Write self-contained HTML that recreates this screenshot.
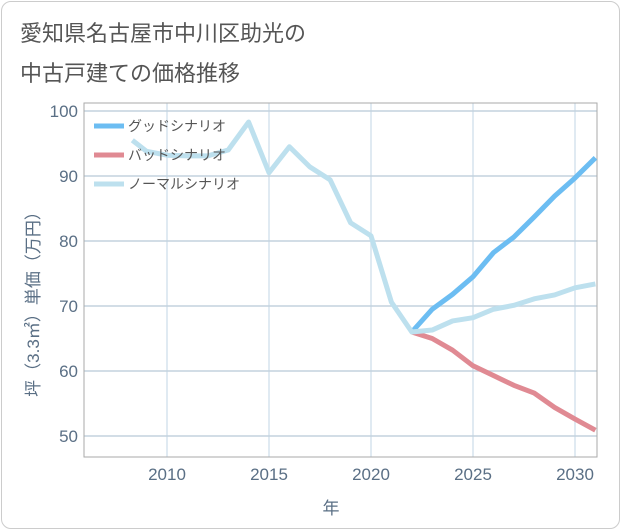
<!DOCTYPE html>
<html><head><meta charset="utf-8"><style>
body{margin:0;background:#fff;}
#card{position:absolute;left:1px;top:1px;width:617px;height:526px;border:1px solid #ccc;border-radius:10px;background:#fff;}
.t{position:absolute;left:18px;font:22px "Liberation Sans","Noto Sans CJK JP",sans-serif;color:#555;}
svg text{font-family:"Liberation Sans","Noto Sans CJK JP",sans-serif;}
</style></head><body>
<div id="card">
<div class="t" style="top:14px">愛知県名古屋市中川区助光の</div>
<div class="t" style="top:54px">中古戸建ての価格推移</div>
</div>
<svg id="chart" width="621" height="530" style="position:absolute;left:0;top:0"></svg>
<script>
const xTicks=[2010,2015,2020,2025,2030];
const yTicks=[50,60,70,80,90,100];
const normalYears=[2008.3,2009,2010,2011,2012,2013,2014,2015,2016,2017,2018,2019,2020,2021,2022,2023,2024,2025,2026,2027,2028,2029,2030,2031];
const normalVals=[95.5,93.8,93.2,93.1,93.1,94,98.3,90.5,94.5,91.4,89.4,82.8,80.8,70.6,66,66.3,67.7,68.2,69.5,70.1,71.1,71.7,72.8,73.4];
const futureYears=[2022,2023,2024,2025,2026,2027,2028,2029,2030,2031];
const goodVals=[66,69.5,71.8,74.5,78.2,80.6,83.7,86.9,89.7,92.8];
const badVals=[66,65,63.2,60.8,59.3,57.8,56.6,54.4,52.6,50.9];
const L=84,R=597,T=103,B=457;
const X=y=>167+(y-2010)*20.4;
const Y=v=>111+(100-v)*6.5;
const NS='http://www.w3.org/2000/svg';
const svg=document.getElementById('chart');
function mk(t,a){const e=document.createElementNS(NS,t);for(const k in a)e.setAttribute(k,a[k]);svg.appendChild(e);return e;}
const defs=mk('defs',{});const cp=document.createElementNS(NS,'clipPath');cp.setAttribute('id','c');defs.appendChild(cp);
const cr=document.createElementNS(NS,'rect');cr.setAttribute('x',L);cr.setAttribute('y',T);cr.setAttribute('width',R-L);cr.setAttribute('height',B-T);cp.appendChild(cr);
xTicks.forEach(t=>{
 const g=mk('line',{x1:X(t),x2:X(t),y1:T,y2:B,stroke:'#d5e3ee','stroke-width':1.5});
 
 const l=mk('text',{x:X(t),y:480,'text-anchor':'middle','font-size':17,fill:'#5a6f85'});l.textContent=t;
 
});
yTicks.forEach(t=>{
 const g=mk('line',{x1:L,x2:R,y1:Y(t),y2:Y(t),stroke:'#c3d2de','stroke-width':1.5});
 
 const l=mk('text',{x:78,y:Y(t)+6,'text-anchor':'end','font-size':17,fill:'#5a6f85'});l.textContent=t;
 
});
const fr=mk('rect',{x:L,y:T,width:R-L,height:B-T,fill:'none',stroke:'#aaa','stroke-width':1});

function line(ys,vs,col,name){
 const p=mk('polyline',{points:ys.map((y,i)=>X(y)+','+Y(vs[i])).join(' '),fill:'none',stroke:col,'stroke-width':5,'stroke-linejoin':'round','clip-path':'url(#c)'});
 
}
line(futureYears,badVals,'#e08a93','bad-scenario-line');
line(futureYears,goodVals,'#6cbdf2','good-scenario-line');
line(normalYears,normalVals,'#bde0ee','normal-scenario-line');
[['グッドシナリオ','#6cbdf2'],['バッドシナリオ','#e08a93'],['ノーマルシナリオ','#bde0ee']].forEach((e,i)=>{
 const y=126+i*29;
 const s=mk('line',{x1:94,x2:124,y1:y,y2:y,stroke:e[1],'stroke-width':5});
 
 const t=mk('text',{x:128,y:y+5,'font-size':14,fill:'#555'});t.textContent=e[0];
 
});
const xt=mk('text',{x:331,y:514,'text-anchor':'middle','font-size':17,fill:'#5a6f85'});xt.textContent='年';

const yt=mk('text',{x:0,y:0,'text-anchor':'middle','font-size':17,fill:'#5a6f85',transform:'translate(39,300) rotate(-90)'});yt.textContent='坪（3.3㎡）単価（万円）';

</script>
</body></html>
